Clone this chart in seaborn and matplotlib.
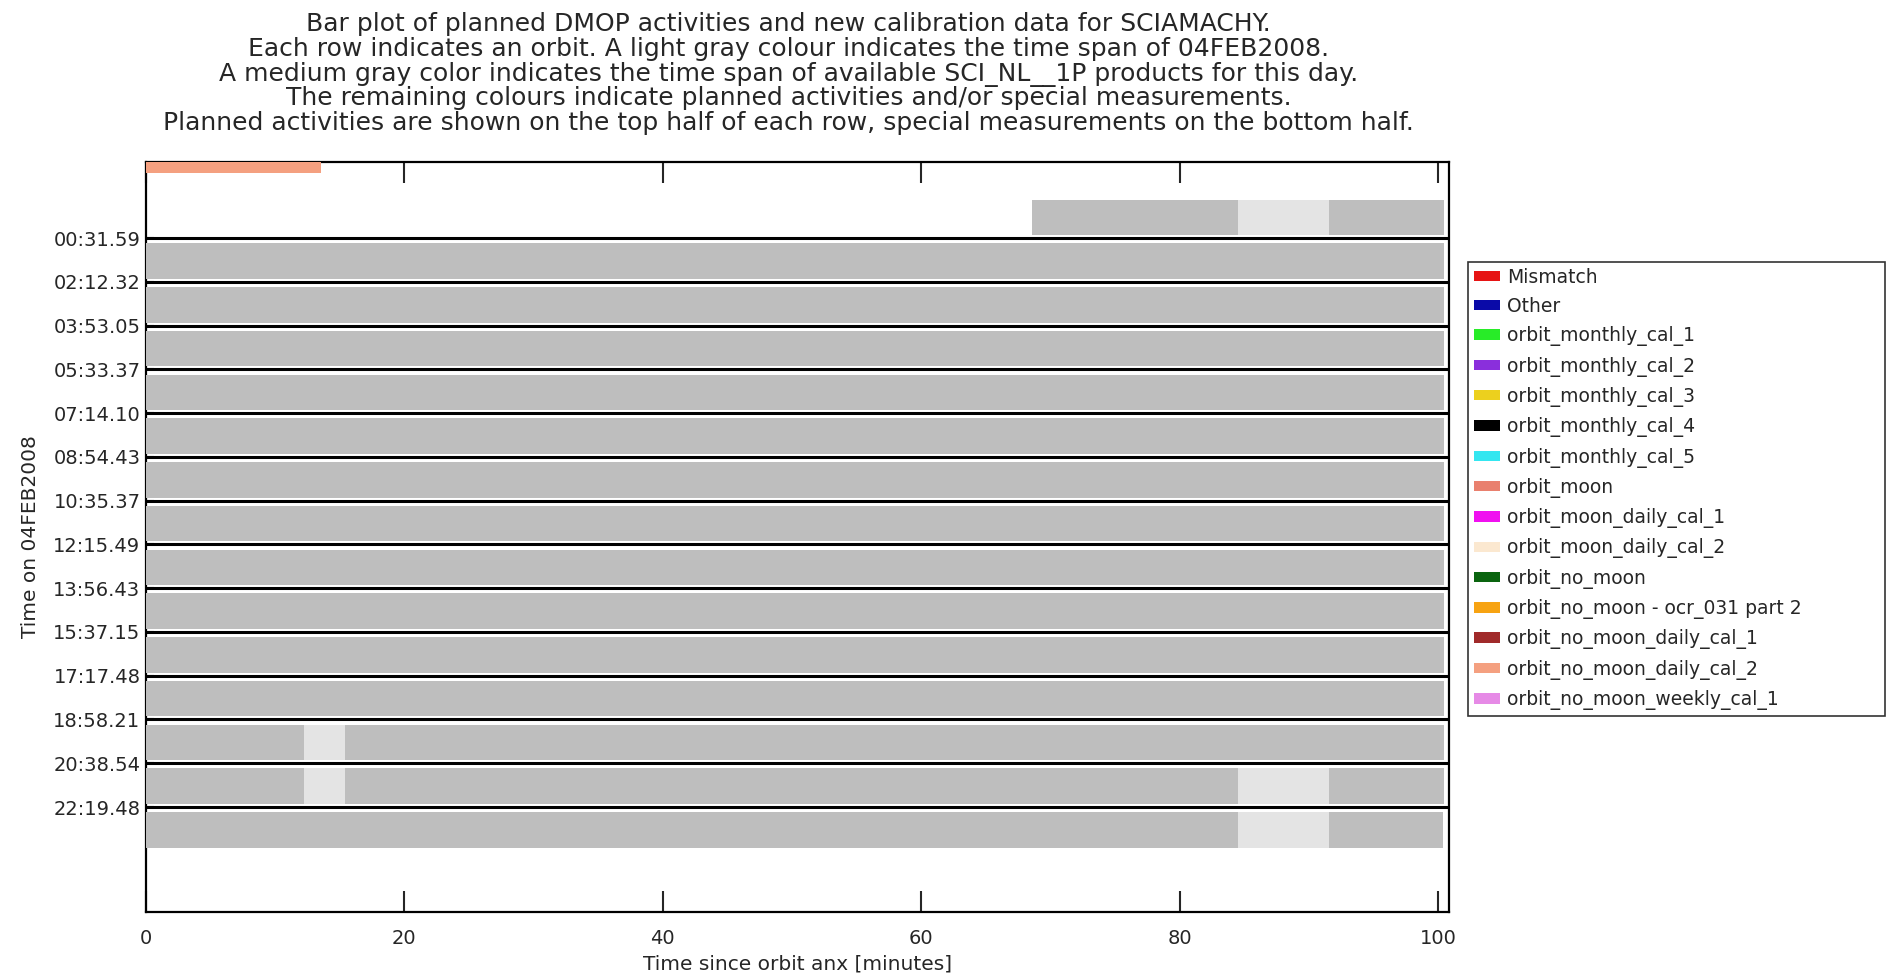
import numpy as np
import pandas as pd
import matplotlib
matplotlib.use("Agg")
import matplotlib.pyplot as plt
from matplotlib.patches import Patch
import seaborn as sns

# orbit start times shown at the row boundaries
orbit_labels = ['00:31.59', '02:12.32', '03:53.05', '05:33.37', '07:14.10', '08:54.43', '10:35.37',
                '12:15.49', '13:56.43', '15:37.15', '17:17.48', '18:58.21', '20:38.54', '22:19.48']

# light gray: time span of the day inside each orbit row (minutes since anx)
day_row = list(range(15))
day_start = [68.6] + [0.0] * 14
day_end = [100.5] * 14 + [100.4]

# medium gray: spans of available SCI_NL__1P products
prod_row = [0, 0] + list(range(1, 12)) + [12, 12, 13, 13, 13, 14, 14]
prod_start = [68.6, 91.6] + [0.0] * 11 + [0.0, 15.4, 0.0, 15.4, 91.6, 0.0, 91.6]
prod_end = [84.5, 100.5] + [100.5] * 11 + [12.2, 100.5, 12.2, 84.5, 100.5, 84.5, 100.4]

# planned activities (top half of the row)
plan_row = [-1]
plan_start = [0.0]
plan_end = [13.55]
plan_name = ['orbit_no_moon_daily_cal_2']

legend_names = ['Mismatch', 'Other', 'orbit_monthly_cal_1', 'orbit_monthly_cal_2', 'orbit_monthly_cal_3',
                'orbit_monthly_cal_4', 'orbit_monthly_cal_5', 'orbit_moon', 'orbit_moon_daily_cal_1',
                'orbit_moon_daily_cal_2', 'orbit_no_moon', 'orbit_no_moon - ocr_031 part 2',
                'orbit_no_moon_daily_cal_1', 'orbit_no_moon_daily_cal_2', 'orbit_no_moon_weekly_cal_1']
legend_colors = ['#e61414', '#0a0aa8', '#28ec28', '#8a2fdc', '#ecd01e', '#000000', '#34e6f0', '#e9806e',
                 '#f010f0', '#fbe8d0', '#0a640f', '#f7a312', '#a02a2a', '#f4a080', '#e68ae6']
palette = dict(zip(legend_names, legend_colors))

title_lines = [
    'Bar plot of planned DMOP activities and new calibration data for SCIAMACHY.',
    'Each row indicates an orbit. A light gray colour indicates the time span of 04FEB2008.',
    'A medium gray color indicates the time span of available SCI_NL__1P products for this day.',
    'The remaining colours indicate planned activities and/or special measurements.',
    'Planned activities are shown on the top half of each row, special measurements on the bottom half.',
]

sns.set_style("ticks", {"xtick.direction": "in", "ytick.direction": "in"})
plt.rcParams['font.family'] = ['DejaVu Sans']

days = pd.DataFrame({'row': day_row, 'start': day_start, 'end': day_end})
prods = pd.DataFrame({'row': prod_row, 'start': prod_start, 'end': prod_end})
plans = pd.DataFrame({'row': plan_row, 'start': plan_start, 'end': plan_end, 'name': plan_name})

fig = plt.figure(figsize=(18.86, 9.75), dpi=100)
ax = fig.add_axes([0.0774, 0.0646, 0.6909, 0.7692])

# row i spans y in (i-1, i); bars leave a little gap to the separator lines
top_gap, bot_gap = 0.12, 0.07
h = 1 - top_gap - bot_gap
ax.barh(days['row'] - 1 + top_gap + h / 2, days['end'] - days['start'], left=days['start'],
        height=h, color='#e4e4e4', linewidth=0, edgecolor='none', zorder=3)
ax.barh(prods['row'] - 1 + top_gap + h / 2, prods['end'] - prods['start'], left=prods['start'],
        height=h, color='#bebebe', linewidth=0, edgecolor='none', zorder=3.1)
ax.barh(plans['row'] - 0.75, plans['end'] - plans['start'], left=plans['start'], height=0.5,
        color=[palette[n] for n in plans['name']], linewidth=0, edgecolor='none', zorder=3.2)

ax.hlines(np.arange(len(orbit_labels)), 0, 100.85, color='black', lw=2.2, zorder=4)

ax.set_xlim(0, 100.85)
ax.set_ylim(15.4, -1.74)
ax.set_xticks(np.arange(0, 101, 20))
ax.set_yticks(np.arange(len(orbit_labels)))
ax.set_yticklabels(orbit_labels)
ax.tick_params(axis='x', top=True, length=15, width=1.5, labelsize=14, pad=12)
ax.tick_params(axis='y', length=6, width=1.5, labelsize=14, pad=4)
for s in ax.spines.values():
    s.set_linewidth(1.6)
    s.set_color('black')

ax.set_xlabel('Time since orbit anx [minutes]', fontsize=14.5)
ax.xaxis.set_label_coords(0.5, -0.056)
ax.set_ylabel('Time on 04FEB2008', fontsize=14.5)
ax.yaxis.set_label_coords(-0.081, 0.5)

baselines = [31, 55.8, 80.6, 105.4, 130.2]
for line, y in zip(title_lines, baselines):
    fig.text(0.418, 1 - y / 975, line, ha='center', va='baseline', fontsize=18)

handles = [Patch(facecolor=c, edgecolor='none', label=n) for n, c in zip(legend_names, legend_colors)]
x0, x1 = 1468 / 1886, 1885 / 1886
leg = fig.legend(handles=handles, loc='upper left', mode='expand',
                 bbox_to_anchor=(x0, 1 - 262 / 975, x1 - x0, 0),
                 frameon=True, fancybox=False, fontsize=13.5, handlelength=1.39, handleheight=0.48,
                 labelspacing=0.55, borderaxespad=0, borderpad=0.3, handletextpad=0.4)
leg.get_frame().set_edgecolor('black')
leg.get_frame().set_linewidth(1.2)

fig.savefig('out.png', dpi=100)
